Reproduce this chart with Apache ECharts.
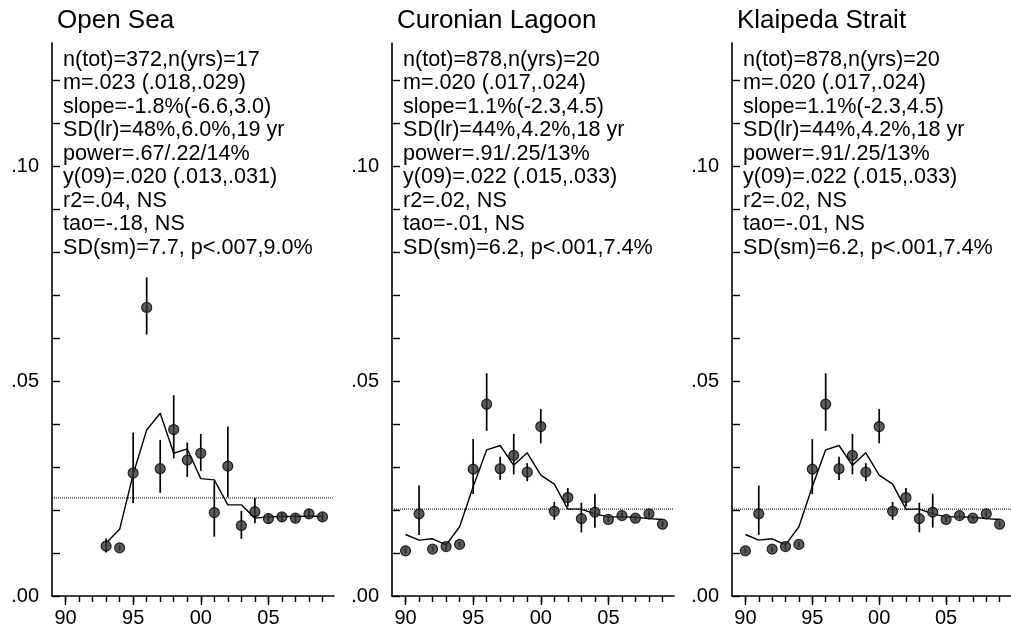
<!DOCTYPE html>
<html>
<head>
<meta charset="utf-8">
<script src="https://cdn.jsdelivr.net/npm/echarts@6/dist/echarts.min.js"></script>
<style>
  html, body { margin: 0; padding: 0; background: #fff; }
  #chart { width: 1011px; height: 633px; }
</style>
</head>
<body>
<div id="chart"></div>
<script>
// panel titles
const panelTitles = ['Open Sea', 'Curonian Lagoon', 'Klaipeda Strait'];

// stats text shown in each panel
const openStats = [
  'n(tot)=372,n(yrs)=17', 'm=.023 (.018,.029)', 'slope=-1.8%(-6.6,3.0)',
  'SD(lr)=48%,6.0%,19 yr', 'power=.67/.22/14%', 'y(09)=.020 (.013,.031)',
  'r2=.04, NS', 'tao=-.18, NS', 'SD(sm)=7.7, p<.007,9.0%'
];
const lagoonStats = [
  'n(tot)=878,n(yrs)=20', 'm=.020 (.017,.024)', 'slope=1.1%(-2.3,4.5)',
  'SD(lr)=44%,4.2%,18 yr', 'power=.91/.25/13%', 'y(09)=.022 (.015,.033)',
  'r2=.02, NS', 'tao=-.01, NS', 'SD(sm)=6.2, p<.001,7.4%'
];

// Open Sea
const openYears = [1993, 1994, 1995, 1996, 1997, 1998, 1999, 2000, 2001, 2002, 2003, 2004, 2005, 2006, 2007, 2008, 2009];
const openMean = [0.0116, 0.0112, 0.0286, 0.0671, 0.0296, 0.0387, 0.0316, 0.0332, 0.0194, 0.0302, 0.0164, 0.0196, 0.0180, 0.0184, 0.0181, 0.0191, 0.0184];
const openLow = [0.0101, 0.0105, 0.0216, 0.0608, 0.0240, 0.0320, 0.0277, 0.0291, 0.0138, 0.0230, 0.0133, 0.0169, 0.0168, 0.0173, 0.0171, 0.0181, 0.0174];
const openHigh = [0.0134, 0.0118, 0.0380, 0.0741, 0.0363, 0.0467, 0.0357, 0.0377, 0.0267, 0.0394, 0.0198, 0.0228, 0.0192, 0.0195, 0.0191, 0.0201, 0.0194];
const openSmooth = [0.0123, 0.0155, 0.0283, 0.0386, 0.0425, 0.0332, 0.0342, 0.0273, 0.0270, 0.0212, 0.0212, 0.0181, 0.0184, 0.0185, 0.0185, 0.0186, 0.0185];
const openLevel = 0.0228;

// Curonian Lagoon / Klaipeda Strait (same values)
const lagoonYears = [1990, 1991, 1992, 1993, 1994, 1995, 1996, 1997, 1998, 1999, 2000, 2001, 2002, 2003, 2004, 2005, 2006, 2007, 2008, 2009];
const lagoonMean = [0.0105, 0.0191, 0.0109, 0.0115, 0.0120, 0.0295, 0.0446, 0.0296, 0.0327, 0.0288, 0.0394, 0.0197, 0.0229, 0.0180, 0.0195, 0.0178, 0.0187, 0.0181, 0.0191, 0.0167];
const lagoonLow = [0.0099, 0.0142, 0.0103, 0.0107, 0.0114, 0.0237, 0.0384, 0.0270, 0.0283, 0.0267, 0.0355, 0.0177, 0.0208, 0.0148, 0.0159, 0.0172, 0.0180, 0.0175, 0.0184, 0.0161];
const lagoonHigh = [0.0111, 0.0257, 0.0115, 0.0123, 0.0126, 0.0365, 0.0518, 0.0324, 0.0377, 0.0309, 0.0435, 0.0219, 0.0251, 0.0217, 0.0238, 0.0184, 0.0194, 0.0187, 0.0198, 0.0173];
const lagoonSmooth = [0.0143, 0.0130, 0.0133, 0.0119, 0.0161, 0.0254, 0.0340, 0.0350, 0.0304, 0.0333, 0.0281, 0.0260, 0.0202, 0.0202, 0.0191, 0.0184, 0.0184, 0.0183, 0.0180, 0.0178];
const lagoonLevel = 0.0202;

// axis ticks
const allYears = [];
for (let y = 1990; y <= 2009; y++) allYears.push(y);
const majorYears = [1990, 1995, 2000, 2005];
const yTicks = [0, 0.01, 0.02, 0.03, 0.04, 0.05, 0.06, 0.07, 0.08, 0.09, 0.10, 0.11, 0.12];
const yLabels = [0, 0.05, 0.10];

const xMin = 1989, xMax = 2009.85;
const yMax = 0.1286;

const panels = [
  {title: panelTitles[0], stats: openStats, years: openYears, mean: openMean, low: openLow, high: openHigh, smooth: openSmooth, level: openLevel},
  {title: panelTitles[1], stats: lagoonStats, years: lagoonYears, mean: lagoonMean, low: lagoonLow, high: lagoonHigh, smooth: lagoonSmooth, level: lagoonLevel},
  {title: panelTitles[2], stats: lagoonStats, years: lagoonYears, mean: lagoonMean, low: lagoonLow, high: lagoonHigh, smooth: lagoonSmooth, level: lagoonLevel}
];

const FONT = '"Liberation Sans", Arial, Helvetica, sans-serif';
const gridLeft = [52, 392, 732];
const gridTop = 43, gridHeight = 553, gridWidth = 282;

let grid = [], xAxis = [], yAxis = [], series = [], graphic = [];

panels.forEach(function (p, i) {
  grid.push({left: gridLeft[i], top: gridTop, width: gridWidth, height: gridHeight});

  // axis line + yearly minor ticks
  xAxis.push({
    type: 'value', gridIndex: i, position: 'bottom', min: xMin, max: xMax,
    axisLine: {show: true, onZero: false, lineStyle: {color: '#000', width: 1.6}},
    axisTick: {show: true, customValues: allYears, length: 6, lineStyle: {color: '#000', width: 1.4}},
    axisLabel: {show: false},
    splitLine: {show: false}
  });
  // major ticks and labels
  xAxis.push({
    type: 'value', gridIndex: i, position: 'bottom', min: xMin, max: xMax,
    axisLine: {show: false},
    axisTick: {show: true, customValues: majorYears, length: 9, lineStyle: {color: '#000', width: 1.4}},
    axisLabel: {
      show: true, customValues: majorYears, margin: 12,
      color: '#000', fontSize: 20, fontFamily: FONT,
      formatter: function (v) { return String(v).slice(2); }
    },
    splitLine: {show: false}
  });

  yAxis.push({
    type: 'value', gridIndex: i, min: 0, max: yMax,
    axisLine: {show: true, lineStyle: {color: '#000', width: 1.6}},
    axisTick: {show: true, inside: true, customValues: yTicks, length: 8, lineStyle: {color: '#000', width: 1.4}},
    axisLabel: {
      show: true, customValues: yLabels, margin: 13,
      color: '#000', fontSize: 20, fontFamily: FONT,
      formatter: function (v) { return '.' + String(Math.round(v * 100)).padStart(2, '0'); }
    },
    splitLine: {show: false}
  });

  // dotted overall level
  series.push({
    type: 'line', xAxisIndex: 2 * i, yAxisIndex: i,
    data: [[xMin, p.level], [xMax, p.level]],
    symbol: 'none', silent: true,
    lineStyle: {color: '#000', width: 1, type: [1, 1]}
  });

  // error bars
  series.push({
    type: 'custom', xAxisIndex: 2 * i, yAxisIndex: i,
    data: p.years.map(function (y, k) { return [y, p.low[k], p.high[k]]; }),
    renderItem: function (params, api) {
      const a = api.coord([api.value(0), api.value(1)]);
      const b = api.coord([api.value(0), api.value(2)]);
      return {
        type: 'line',
        shape: {x1: a[0], y1: a[1], x2: b[0], y2: b[1]},
        style: {stroke: '#000', lineWidth: 1.7}
      };
    },
    silent: true
  });

  // smoothed line
  series.push({
    type: 'line', xAxisIndex: 2 * i, yAxisIndex: i,
    data: p.years.map(function (y, k) { return [y, p.smooth[k]]; }),
    symbol: 'none', silent: true,
    lineStyle: {color: '#000', width: 1.4}
  });

  // annual means
  series.push({
    type: 'scatter', xAxisIndex: 2 * i, yAxisIndex: i,
    data: p.years.map(function (y, k) { return [y, p.mean[k]]; }),
    symbol: 'circle', symbolSize: 10, silent: true,
    itemStyle: {color: '#333', borderColor: '#000', borderWidth: 1.2},
    z: 5
  });

  graphic.push({
    type: 'text', left: gridLeft[i] + 5, top: 8,
    style: {text: p.title, font: '26px ' + FONT, fill: '#000'}
  });
  graphic.push({
    type: 'text', left: gridLeft[i] + 11, top: 48,
    style: {text: p.stats.join('\n'), font: '21.6px ' + FONT, lineHeight: 23.5, fill: '#000'}
  });
});

const chart = echarts.init(document.getElementById('chart'), null, {renderer: 'canvas'});
chart.setOption({
  animation: false,
  backgroundColor: '#fff',
  grid: grid,
  xAxis: xAxis,
  yAxis: yAxis,
  series: series,
  graphic: graphic
});
</script>
</body>
</html>
